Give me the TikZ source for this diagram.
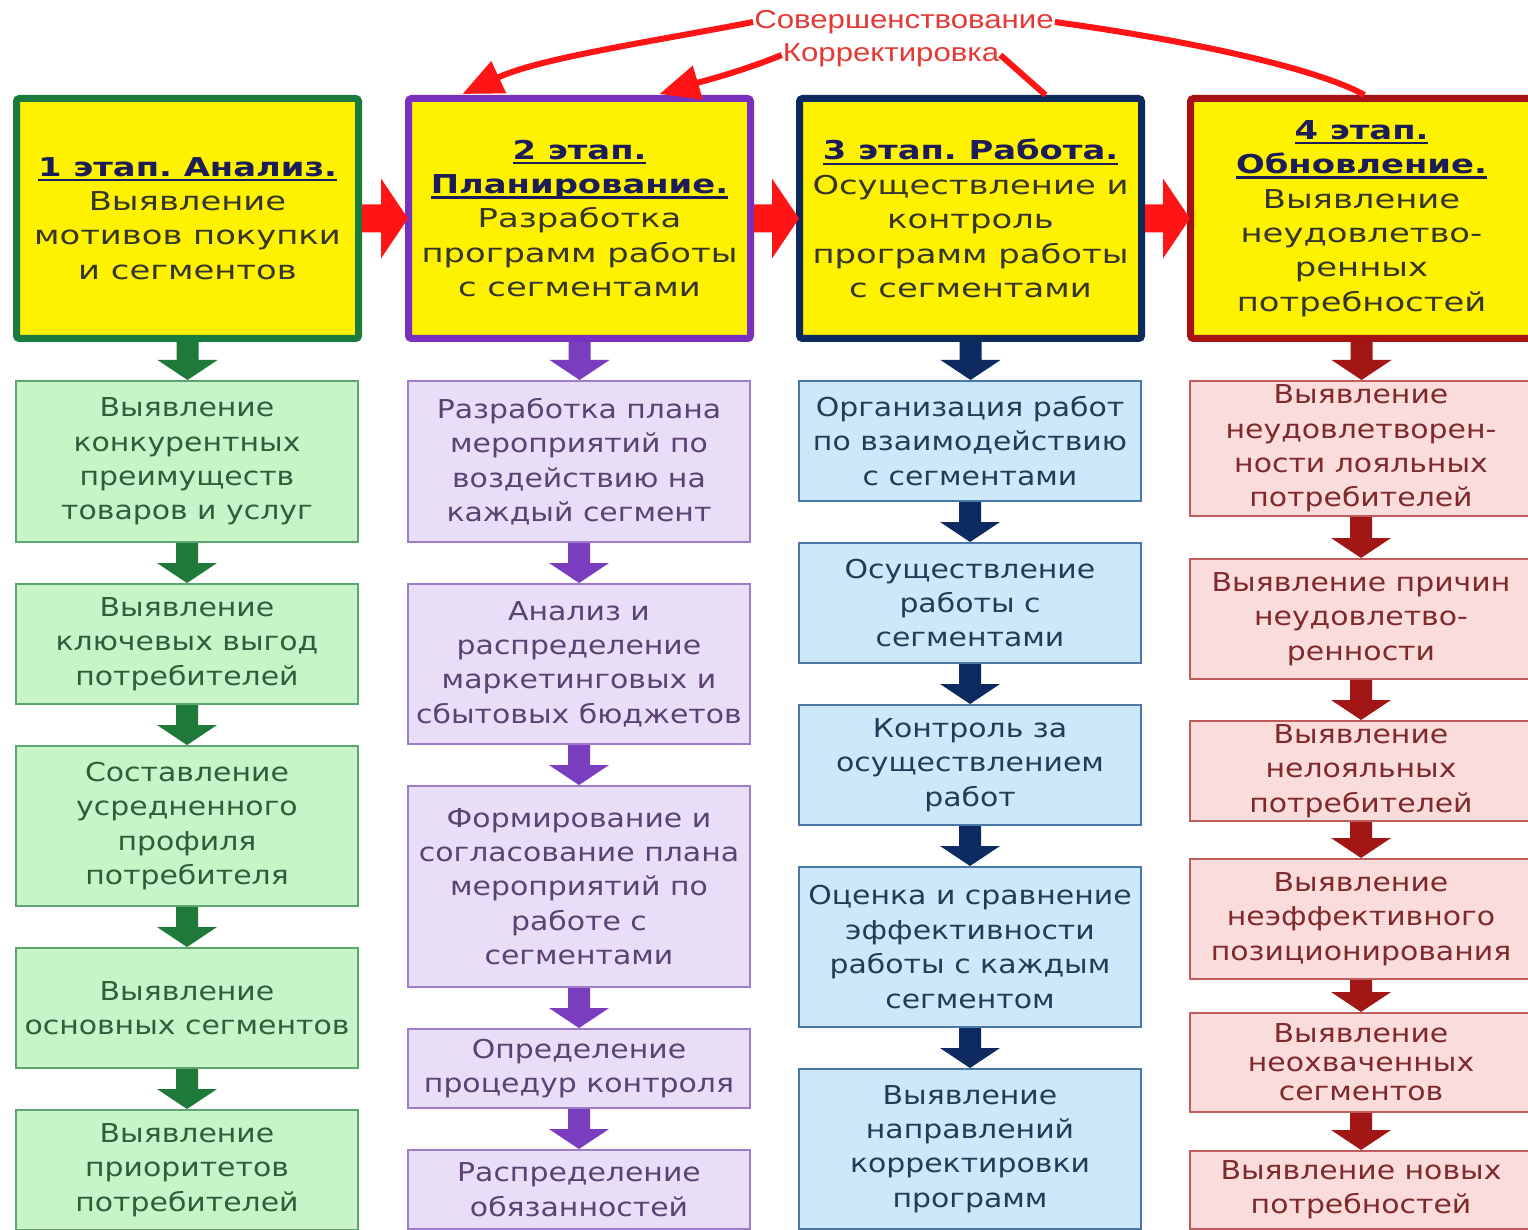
\documentclass[tikz,border=0pt]{standalone}
\usepackage{fontspec}
\setmainfont{DejaVu Sans}[FakeStretch=1.3]
\newfontfamily\subfont{DejaVu Sans}[FakeStretch=1.15]
\newfontfamily\lblfont{Liberation Sans}[FakeStretch=1.2]
\usetikzlibrary{calc,arrows.meta}
\definecolor{gbrd}{HTML}{1B7A3E}
\definecolor{pbrd}{HTML}{7A30BE}
\definecolor{nbrd}{HTML}{0C2A5C}
\definecolor{rbrd}{HTML}{A51212}
\definecolor{gfill}{HTML}{C8F5C8}
\definecolor{gline}{HTML}{5FA56F}
\definecolor{gtxt}{HTML}{2E5E3C}
\definecolor{garr}{HTML}{1F7A3A}
\definecolor{pfill}{HTML}{E9DEF8}
\definecolor{pline}{HTML}{9F7CCB}
\definecolor{ptxt}{HTML}{5A4272}
\definecolor{parr}{HTML}{7A3DC0}
\definecolor{bfill}{HTML}{CDE8F8}
\definecolor{bline}{HTML}{4A78AA}
\definecolor{btxt}{HTML}{243B57}
\definecolor{barr}{HTML}{0D2B60}
\definecolor{rfill}{HTML}{FBDCDC}
\definecolor{rline}{HTML}{C25C5C}
\definecolor{rtxt}{HTML}{7E2A2A}
\definecolor{rarr}{HTML}{A31616}
\definecolor{bodytxt}{HTML}{35352A}
\definecolor{ttltxt}{HTML}{1C1C58}
\definecolor{redarr}{HTML}{FF1515}
\definecolor{lbltxt}{HTML}{E53935}
\newcommand\mainsz{\frenchspacing\fontsize{26}{34.4}\selectfont}
\newcommand\subsz{\subfont\frenchspacing\fontsize{26}{34.4}\selectfont}
\newcommand\ttl[1]{{\color{ttltxt}\bfseries\setbox0\hbox{#1}\rlap{\rule[-5pt]{\wd0}{2.2pt}}\box0}}
\newcommand\dnarr[3]{\fill[#3] let \p1=(#1.south), \p2=(#2.north) in
  (\x1-11pt,\y1) -- (\x1+11pt,\y1) -- (\x1+11pt,\y2+20pt) -- (\x1+30pt,\y2+20pt)
  -- (\x1,\y2) -- (\x1-30pt,\y2+20pt) -- (\x1-11pt,\y2+20pt) -- cycle;}
\newcommand\rtarr[2]{\fill[redarr] let \p1=(#1.east), \p2=(#2.west) in
  (\x1,\y1+14pt) -- (\x2-24pt,\y1+14pt) -- (\x2-24pt,\y1+40pt) -- (\x2+3pt,\y1)
  -- (\x2-24pt,\y1-40pt) -- (\x2-24pt,\y1-14pt) -- (\x1,\y1-14pt) -- cycle;}
\tikzset{
  hdr/.style={draw=#1, line width=7pt, fill=yellow, rounded corners=3pt,
    minimum width=342pt, minimum height=240pt, align=center, inner sep=0pt,
    font=\mainsz, text=bodytxt},
  subbox/.style={line width=2pt, minimum width=342pt, align=center, inner sep=0pt,
    font=\subsz},
  gbox/.style={subbox, draw=gline, fill=gfill, text=gtxt},
  pbox/.style={subbox, draw=pline, fill=pfill, text=ptxt},
  bbox/.style={subbox, draw=bline, fill=bfill, text=btxt},
  rbox/.style={subbox, draw=rline, fill=rfill, text=rtxt},
  lbl/.style={font=\lblfont\fontsize{26}{28}\selectfont, text=lbltxt, inner sep=1pt},
  redcurve/.style={draw=redarr, line width=6pt},
  redtip/.style={-{Triangle[length=40pt,width=34pt]}}
}
\begin{document}
\begin{tikzpicture}[x=1pt,y=-1pt]
\clip (0,0) rectangle (1528,1230);
\fill[white] (0,0) rectangle (1528,1230);
\path
  node[hdr=gbrd] (h1) at (187.5,218.5) {\ttl{1 этап. Анализ.}\\Выявление\\мотивов покупки\\и сегментов}
  node[hdr=pbrd] (h2) at (579.5,218.5) {\ttl{2 этап.}\\\ttl{Планирование.}\\Разработка\\программ работы\\с сегментами}
  node[hdr=nbrd] (h3) at (970.5,218.5) {\ttl{3 этап. Работа.}\\Осуществление и\\контроль\\программ работы\\с сегментами}
  node[hdr=rbrd] (h4) at (1361.5,218.5) {\ttl{4 этап.}\\\ttl{Обновление.}\\Выявление\\неудовлетво-\\ренных\\потребностей};
% column 1
\node[gbox, minimum height=161pt] (a1) at (187,461.5) {Выявление\\конкурентных\\преимуществ\\товаров и услуг};
\node[gbox, minimum height=120pt] (a2) at (187,644) {Выявление\\ключевых выгод\\потребителей};
\node[gbox, minimum height=160pt] (a3) at (187,826) {Составление\\усредненного\\профиля\\потребителя};
\node[gbox, minimum height=120pt] (a4) at (187,1008) {Выявление\\основных сегментов};
\node[gbox, minimum height=120pt] (a5) at (187,1170) {Выявление\\приоритетов\\потребителей};
% column 2
\node[pbox, minimum height=161pt] (b1) at (579,461.5) {Разработка плана\\мероприятий по\\воздействию на\\каждый сегмент};
\node[pbox, minimum height=160pt] (b2) at (579,664) {Анализ и\\распределение\\маркетинговых и\\сбытовых бюджетов};
\node[pbox, minimum height=201pt] (b3) at (579,886.5) {Формирование и\\согласование плана\\мероприятий по\\работе с\\сегментами};
\node[pbox, minimum height=79pt] (b4) at (579,1068.5) {Определение\\процедур контроля};
\node[pbox, minimum height=79pt] (b5) at (579,1189.5) {Распределение\\обязанностей};
% column 3
\node[bbox, minimum height=120pt] (c1) at (970,441) {Организация работ\\по взаимодействию\\с сегментами};
\node[bbox, minimum height=120pt] (c2) at (970,603) {Осуществление\\работы с\\сегментами};
\node[bbox, minimum height=120pt] (c3) at (970,765) {Контроль за\\осуществлением\\работ};
\node[bbox, minimum height=160pt] (c4) at (970,947) {Оценка и сравнение\\эффективности\\работы с каждым\\сегментом};
\node[bbox, minimum height=160pt] (c5) at (970,1149) {Выявление\\направлений\\корректировки\\программ};
% column 4
\node[rbox, minimum height=135pt] (d1) at (1361,448.5) {Выявление\\неудовлетворен-\\ности лояльных\\потребителей};
\node[rbox, minimum height=120pt] (d2) at (1361,619) {Выявление причин\\неудовлетво-\\ренности};
\node[rbox, minimum height=100pt] (d3) at (1361,771) {Выявление\\нелояльных\\потребителей};
\node[rbox, minimum height=120pt] (d4) at (1361,919) {Выявление\\неэффективного\\позиционирования};
\node[rbox, minimum height=99pt, font=\subsz\fontsize{26}{29}\selectfont] (d5) at (1361,1062.5) {Выявление\\неохваченных\\сегментов};
\node[rbox, minimum height=78pt] (d6) at (1361,1190) {Выявление новых\\потребностей};
% down arrows
\dnarr{h1}{a1}{garr}\dnarr{a1}{a2}{garr}\dnarr{a2}{a3}{garr}\dnarr{a3}{a4}{garr}\dnarr{a4}{a5}{garr}
\dnarr{h2}{b1}{parr}\dnarr{b1}{b2}{parr}\dnarr{b2}{b3}{parr}\dnarr{b3}{b4}{parr}\dnarr{b4}{b5}{parr}
\dnarr{h3}{c1}{barr}\dnarr{c1}{c2}{barr}\dnarr{c2}{c3}{barr}\dnarr{c3}{c4}{barr}\dnarr{c4}{c5}{barr}
\dnarr{h4}{d1}{rarr}\dnarr{d1}{d2}{rarr}\dnarr{d2}{d3}{rarr}\dnarr{d3}{d4}{rarr}\dnarr{d4}{d5}{rarr}\dnarr{d5}{d6}{rarr}
% right arrows
\rtarr{h1}{h2}\rtarr{h2}{h3}\rtarr{h3}{h4}
% top labels and curves
\node[lbl] (sov) at (904,22) {Совершенствование};
\node[lbl] (kor) at (891,55) {Корректировка};
\coordinate (t4) at ($(h4.north)+(3,0)$);
\coordinate (t3) at ($(h3.north)+(75,0)$);
\coordinate (t2a) at ($(h2.north)+(-117,-1)$);
\coordinate (t2b) at ($(h2.north)+(80,-1)$);
\draw[redcurve] (t4) .. controls (1320,70) and (1200,42) .. (sov.east);
\draw[redcurve, redtip] (sov.west) .. controls (650,42) and (540,58) .. (t2a);
\draw[redcurve] (t3) -- (kor.east);
\draw[redcurve, redtip] (kor.west) .. controls (740,72) and (700,82) .. (t2b);
\end{tikzpicture}
\end{document}
